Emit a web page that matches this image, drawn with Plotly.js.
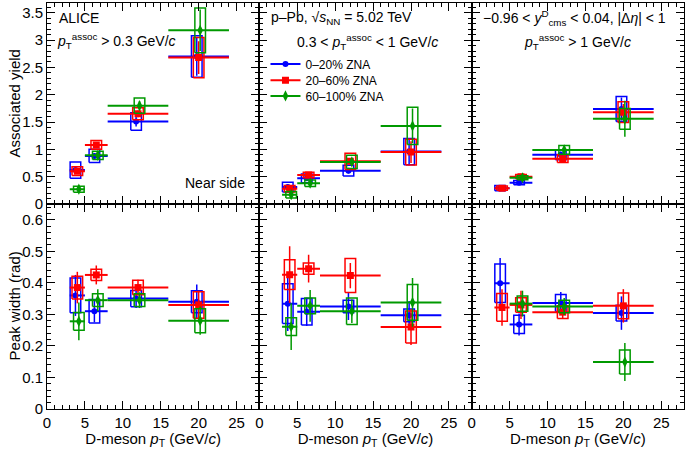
<!DOCTYPE html>
<html>
<head>
<meta charset="utf-8">
<script src="https://cdn.plot.ly/plotly-3.0.1.min.js"></script>
<style>
	body { margin: 0; background: #fff; }
	#chart { width: 685px; height: 449px; }
</style>
</head>
<body>
<div id="chart"></div>
<script>
// D-meson pT bins and point positions (slightly shifted per ZNA class)
const binLow = [3, 5, 8, 16]
const binHigh = [5, 8, 16, 24]
const xBlue = [3.75, 6.25, 11.75, 19.75]
const xRed = [4, 6.5, 12, 20]
const xGreen = [4.2, 6.7, 12.2, 20.2]

// Associated yield, pT assoc > 0.3 GeV/c
const yieldBlueA = [0.62, 0.88, 1.51, 2.7]
const yieldBlueStatA = [0.05, 0.05, 0.09, 0.35]
const yieldBlueSysA = [0.15, 0.12, 0.16, 0.38]
const yieldRedA = [0.6, 1.08, 1.65, 2.68]
const yieldRedStatA = [0.05, 0.05, 0.06, 0.3]
const yieldRedSysA = [0.08, 0.08, 0.11, 0.37]
const yieldGreenA = [0.27, 0.89, 1.8, 3.18]
const yieldGreenStatA = [0.03, 0.05, 0.08, 0.38]
const yieldGreenSysA = [0.055, 0.075, 0.14, 0.41]

// Associated yield, 0.3 < pT assoc < 1 GeV/c
const yieldBlueB = [0.31, 0.47, 0.61, 0.96]
const yieldBlueStatB = [0.04, 0.04, 0.05, 0.25]
const yieldBlueSysB = [0.09, 0.08, 0.1, 0.24]
const yieldRedB = [0.28, 0.53, 0.78, 0.95]
const yieldRedStatB = [0.03, 0.04, 0.05, 0.2]
const yieldRedSysB = [0.06, 0.05, 0.15, 0.235]
const yieldGreenB = [0.17, 0.38, 0.77, 1.43]
const yieldGreenStatB = [0.03, 0.04, 0.06, 0.32]
const yieldGreenSysB = [0.06, 0.06, 0.12, 0.34]

// Associated yield, pT assoc > 1 GeV/c
const yieldBlueC = [0.29, 0.39, 0.9, 1.74]
const yieldBlueStatC = [0.03, 0.03, 0.06, 0.21]
const yieldBlueSysC = [0.05, 0.04, 0.09, 0.23]
const yieldRedC = [0.29, 0.5, 0.83, 1.68]
const yieldRedStatC = [0.03, 0.03, 0.05, 0.15]
const yieldRedSysC = [0.04, 0.04, 0.07, 0.19]
const yieldGreenC = [null, 0.48, 0.99, 1.56]
const yieldGreenStatC = [null, 0.04, 0.06, 0.33]
const yieldGreenSysC = [null, 0.035, 0.08, 0.19]

// Peak width (rad), pT assoc > 0.3 GeV/c
const widthBlueA = [0.36, 0.31, 0.35, 0.34]
const widthBlueStatA = [0.065, 0.035, 0.03, 0.055]
const widthBlueSysA = [0.055, 0.037, 0.026, 0.035]
const widthRedA = [0.385, 0.425, 0.385, 0.33]
const widthRedStatA = [0.05, 0.03, 0.025, 0.045]
const widthRedSysA = [0.036, 0.018, 0.023, 0.042]
const widthGreenA = [0.278, 0.345, 0.345, 0.28]
const widthGreenStatA = [0.06, 0.035, 0.025, 0.045]
const widthGreenSysA = [0.028, 0.02, 0.02, 0.038]

// Peak width (rad), 0.3 < pT assoc < 1 GeV/c
const widthBlueB = [0.334, 0.308, 0.325, 0.297]
const widthBlueStatB = [0.087, 0.045, 0.043, 0.045]
const widthBlueSysB = [0.063, 0.042, 0.02, 0.02]
const widthRedB = [0.426, 0.445, 0.423, 0.26]
const widthRedStatB = [0.09, 0.044, 0.04, 0.057]
const widthRedSysB = [0.047, 0.018, 0.054, 0.051]
const widthGreenB = [0.261, 0.327, 0.31, 0.338]
const widthGreenStatB = [0.074, 0.05, 0.037, 0.077]
const widthGreenSysB = [0.028, 0.025, 0.042, 0.057]

// Peak width (rad), pT assoc > 1 GeV/c
const widthBlueC = [0.399, 0.268, 0.336, 0.304]
const widthBlueStatC = [0.08, 0.035, 0.035, 0.053]
const widthBlueSysC = [0.061, 0.029, 0.027, 0.025]
const widthRedC = [0.322, 0.33, 0.307, 0.327]
const widthRedStatC = [0.058, 0.045, 0.02, 0.053]
const widthRedSysC = [0.044, 0.023, 0.02, 0.041]
const widthGreenC = [null, 0.334, 0.325, 0.149]
const widthGreenStatC = [null, 0.041, 0.027, 0.06]
const widthGreenSysC = [null, 0.024, 0.02, 0.038]

const font = '"Liberation Sans", Arial, sans-serif'
const boxHalf = 0.7

const series = [
	{ name: '0–20% ZNA', color: '#0000ff', symbol: 'circle', size: 6, x: xBlue, legend: 'legend' },
	{ name: '20–60% ZNA', color: '#ff0000', symbol: 'square', size: 7, x: xRed, legend: 'legend2' },
	{ name: '60–100% ZNA', color: '#009900', symbol: 'diamond-tall', size: 8, x: xGreen, legend: 'legend3' },
]

// panel k (1-3 top row, 4-6 bottom row) -> [value, stat, sys] per series
const panelData = {
	1: [[yieldBlueA, yieldBlueStatA, yieldBlueSysA], [yieldRedA, yieldRedStatA, yieldRedSysA], [yieldGreenA, yieldGreenStatA, yieldGreenSysA]],
	2: [[yieldBlueB, yieldBlueStatB, yieldBlueSysB], [yieldRedB, yieldRedStatB, yieldRedSysB], [yieldGreenB, yieldGreenStatB, yieldGreenSysB]],
	3: [[yieldBlueC, yieldBlueStatC, yieldBlueSysC], [yieldRedC, yieldRedStatC, yieldRedSysC], [yieldGreenC, yieldGreenStatC, yieldGreenSysC]],
	4: [[widthBlueA, widthBlueStatA, widthBlueSysA], [widthRedA, widthRedStatA, widthRedSysA], [widthGreenA, widthGreenStatA, widthGreenSysA]],
	5: [[widthBlueB, widthBlueStatB, widthBlueSysB], [widthRedB, widthRedStatB, widthRedSysB], [widthGreenB, widthGreenStatB, widthGreenSysB]],
	6: [[widthBlueC, widthBlueStatC, widthBlueSysC], [widthRedC, widthRedStatC, widthRedSysC], [widthGreenC, widthGreenStatC, widthGreenSysC]],
}

// put a null between points so lines+markers draws no connecting line
function gap(arr) {
	return arr.flatMap((v, i) => (i ? [null, v] : [v]))
}

const traces = []

function addPanel(k) {
	panelData[k].forEach((d, s) => {
		const sr = series[s]
		const val = d[0]
		const stat = d[1]
		const sys = d[2]
		const bx = []
		const by = []
		val.forEach((v, i) => {
			if (v === null) return
			const x = sr.x[i]
			bx.push(x - boxHalf, x + boxHalf, x + boxHalf, x - boxHalf, x - boxHalf, null)
			by.push(v - sys[i], v - sys[i], v + sys[i], v + sys[i], v - sys[i], null)
		})
		traces.push({
			x: bx,
			y: by,
			xaxis: 'x' + k,
			yaxis: 'y' + k,
			type: 'scatter',
			mode: 'lines',
			line: { color: sr.color, width: 1.5 },
			showlegend: false,
			hoverinfo: 'skip',
		})
		traces.push({
			x: gap(sr.x),
			y: gap(val),
			xaxis: 'x' + k,
			yaxis: 'y' + k,
			type: 'scatter',
			mode: 'lines+markers',
			name: sr.name,
			legend: sr.legend,
			showlegend: k === 1,
			line: { color: sr.color, width: 2 },
			marker: { color: sr.color, symbol: sr.symbol, size: sr.size },
			error_x: {
				type: 'data',
				symmetric: false,
				array: gap(binHigh.map((h, i) => h - sr.x[i])),
				arrayminus: gap(binLow.map((l, i) => sr.x[i] - l)),
				color: sr.color,
				thickness: 2,
				width: 0,
			},
			error_y: {
				type: 'data',
				array: gap(stat.map((v) => (v === null ? 0 : v))),
				color: sr.color,
				thickness: 1.5,
				width: 0,
			},
		})
	})
}

for (let k = 1; k <= 6; k++) addPanel(k)

const xDomains = [[0, 0.3333], [0.3333, 0.6667], [0.6667, 1]]
const topDomain = [0.505, 1]
const bottomDomain = [0, 0.505]

function baseAxis() {
	return {
		showline: true,
		linecolor: '#000',
		linewidth: 1,
		mirror: 'ticks',
		ticks: 'inside',
		ticklen: 8,
		tickcolor: '#000',
		showgrid: false,
		zeroline: false,
		tickfont: { family: font, size: 15, color: '#000' },
	}
}

function legendBox(y) {
	return {
		x: 0.343,
		y: y,
		xanchor: 'left',
		yanchor: 'middle',
		bgcolor: 'rgba(0,0,0,0)',
		font: { family: font, size: 12 },
	}
}

const layout = {
	width: 685,
	height: 449,
	margin: { l: 47, r: 1, t: 3, b: 40 },
	paper_bgcolor: '#fff',
	plot_bgcolor: '#fff',
	font: { family: font, color: '#000' },
	showlegend: true,
	legend: legendBox(0.85),
	legend2: legendBox(0.81),
	legend3: legendBox(0.771),
	annotations: [],
}

for (let k = 1; k <= 6; k++) {
	const col = (k - 1) % 3
	const top = k <= 3
	const xa = baseAxis()
	xa.domain = xDomains[col]
	xa.anchor = 'y' + k
	xa.range = [0, 28]
	xa.dtick = 5
	xa.tick0 = 0
	xa.minor = { ticks: 'inside', ticklen: 4, dtick: 1, tickcolor: '#000' }
	xa.showticklabels = !top
	if (!top) {
		xa.title = {
			text: 'D-meson <i>p</i><sub>T</sub> (GeV/<i>c</i>)',
			font: { family: font, size: 15 },
			standoff: 1,
		}
	}
	const ya = baseAxis()
	ya.domain = top ? topDomain : bottomDomain
	ya.anchor = 'x' + k
	ya.range = top ? [0, 3.68] : [0, 0.65]
	ya.dtick = top ? 0.5 : 0.1
	ya.tick0 = 0
	ya.minor = { ticks: 'inside', ticklen: 4, dtick: top ? 0.1 : 0.02, tickcolor: '#000' }
	ya.showticklabels = col === 0
	const suffix = k === 1 ? '' : String(k)
	layout['xaxis' + suffix] = xa
	layout['yaxis' + suffix] = ya
}

function note(k, x, y, text, xanchor) {
	layout.annotations.push({
		xref: (k === 1 ? 'x' : 'x' + k) + ' domain',
		yref: (k === 1 ? 'y' : 'y' + k) + ' domain',
		x: x,
		y: y,
		text: text,
		xanchor: xanchor,
		yanchor: 'middle',
		showarrow: false,
		font: { family: font, size: 14, color: '#000' },
	})
}

// y-axis titles, placed by hand to sit where the reference has them
function yTitle(k, text) {
	layout.annotations.push({
		xref: 'paper',
		yref: (k === 1 ? 'y' : 'y' + k) + ' domain',
		x: 0,
		xshift: -33,
		y: 0.5,
		text: text,
		textangle: -90,
		xanchor: 'center',
		yanchor: 'middle',
		showarrow: false,
		font: { family: font, size: 15, color: '#000' },
	})
}

yTitle(1, 'Associated yield')
yTitle(4, 'Peak width (rad)')

note(1, 0.045, 0.925, 'ALICE', 'left')
note(1, 0.04, 0.81, '<i>p</i><sub>T</sub><sup>assoc</sup> &gt; 0.3 GeV/<i>c</i>', 'left')
note(1, 0.94, 0.105, 'Near side', 'right')
note(2, 0.045, 0.925, 'p–Pb, √<i>s</i><sub>NN</sub> = 5.02 TeV', 'left')
note(2, 0.51, 0.805, '0.3 &lt; <i>p</i><sub>T</sub><sup>assoc</sup> &lt; 1 GeV/<i>c</i>', 'center')
note(3, 0.045, 0.925, '−0.96 &lt; <i>y</i><sup>D</sup><sub>cms</sub> &lt; 0.04, |Δ<i>η</i>| &lt; 1', 'left')
note(3, 0.5, 0.805, '<i>p</i><sub>T</sub><sup>assoc</sup> &gt; 1 GeV/<i>c</i>', 'center')

Plotly.newPlot('chart', traces, layout, { staticPlot: true })
</script>
</body>
</html>
